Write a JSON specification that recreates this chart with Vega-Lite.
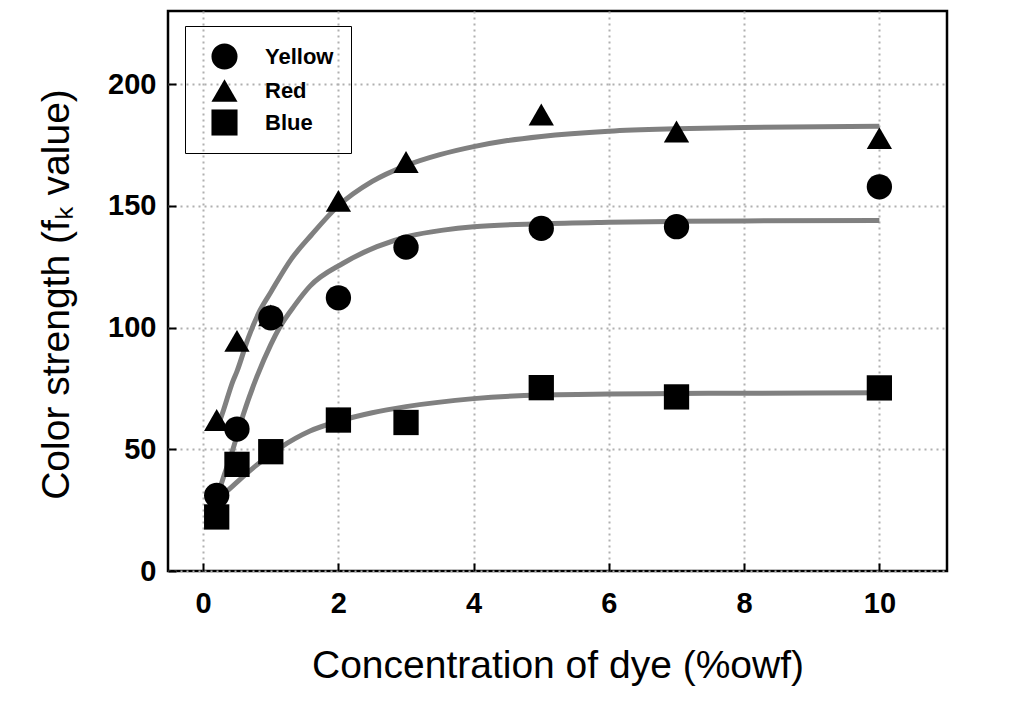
{
  "$schema": "https://vega.github.io/schema/vega-lite/v6.json",
  "width": 779,
  "height": 560,
  "autosize": {"type": "none"},
  "padding": {"left": 168, "top": 11, "right": 70, "bottom": 145},
  "background": "white",
  "config": {
    "view": {"stroke": "black", "strokeWidth": 2.5},
    "font": "Liberation Sans"
  },
  "resolve": {"axis": {"x": "independent", "y": "independent"}},
  "datasets": {
    "points": [
      {"series": "Red", "conc": 0.2, "fk": 62},
      {"series": "Red", "conc": 0.5, "fk": 94.5},
      {"series": "Red", "conc": 1, "fk": 105},
      {"series": "Red", "conc": 2, "fk": 152},
      {"series": "Red", "conc": 3, "fk": 168},
      {"series": "Red", "conc": 5, "fk": 187.5},
      {"series": "Red", "conc": 7, "fk": 180.5},
      {"series": "Red", "conc": 10, "fk": 177.8},
      {"series": "Yellow", "conc": 0.2, "fk": 31},
      {"series": "Yellow", "conc": 0.5, "fk": 58.3},
      {"series": "Yellow", "conc": 1, "fk": 104},
      {"series": "Yellow", "conc": 2, "fk": 112.2},
      {"series": "Yellow", "conc": 3, "fk": 133},
      {"series": "Yellow", "conc": 5, "fk": 140.7},
      {"series": "Yellow", "conc": 7, "fk": 141.4},
      {"series": "Yellow", "conc": 10, "fk": 157.8},
      {"series": "Blue", "conc": 0.2, "fk": 22.2},
      {"series": "Blue", "conc": 0.5, "fk": 43.8},
      {"series": "Blue", "conc": 1, "fk": 49},
      {"series": "Blue", "conc": 2, "fk": 62},
      {"series": "Blue", "conc": 3, "fk": 61},
      {"series": "Blue", "conc": 5, "fk": 75.3},
      {"series": "Blue", "conc": 7, "fk": 71.5},
      {"series": "Blue", "conc": 10, "fk": 75.2}
    ],
    "curves": [
      {"series": "Red", "conc": 0.2, "fk": 58},
      {"series": "Red", "conc": 0.3, "fk": 66},
      {"series": "Red", "conc": 0.44, "fk": 78},
      {"series": "Red", "conc": 0.5, "fk": 82},
      {"series": "Red", "conc": 0.67, "fk": 96},
      {"series": "Red", "conc": 0.84, "fk": 107},
      {"series": "Red", "conc": 1.0, "fk": 114.5},
      {"series": "Red", "conc": 1.3, "fk": 128},
      {"series": "Red", "conc": 1.6, "fk": 138},
      {"series": "Red", "conc": 2.0, "fk": 150},
      {"series": "Red", "conc": 2.5, "fk": 160},
      {"series": "Red", "conc": 3.0, "fk": 166.5},
      {"series": "Red", "conc": 3.5, "fk": 171},
      {"series": "Red", "conc": 4.0, "fk": 174.3},
      {"series": "Red", "conc": 4.5, "fk": 176.8},
      {"series": "Red", "conc": 5.0, "fk": 178.5},
      {"series": "Red", "conc": 6.0, "fk": 180.6},
      {"series": "Red", "conc": 7.0, "fk": 181.6},
      {"series": "Red", "conc": 8.0, "fk": 182.2},
      {"series": "Red", "conc": 10.0, "fk": 182.7},
      {"series": "Yellow", "conc": 0.2, "fk": 30},
      {"series": "Yellow", "conc": 0.3, "fk": 38.5},
      {"series": "Yellow", "conc": 0.44, "fk": 50},
      {"series": "Yellow", "conc": 0.59, "fk": 64},
      {"series": "Yellow", "conc": 0.79, "fk": 79.5},
      {"series": "Yellow", "conc": 1.0, "fk": 93},
      {"series": "Yellow", "conc": 1.13, "fk": 100},
      {"series": "Yellow", "conc": 1.35, "fk": 109},
      {"series": "Yellow", "conc": 1.58, "fk": 117},
      {"series": "Yellow", "conc": 2.07, "fk": 126.4},
      {"series": "Yellow", "conc": 2.57, "fk": 133.2},
      {"series": "Yellow", "conc": 3.06, "fk": 137.6},
      {"series": "Yellow", "conc": 3.55, "fk": 140},
      {"series": "Yellow", "conc": 4.0, "fk": 141.4},
      {"series": "Yellow", "conc": 5.0, "fk": 142.6},
      {"series": "Yellow", "conc": 6.0, "fk": 143.2},
      {"series": "Yellow", "conc": 7.0, "fk": 143.6},
      {"series": "Yellow", "conc": 8.0, "fk": 143.8},
      {"series": "Yellow", "conc": 10.0, "fk": 144},
      {"series": "Blue", "conc": 0.2, "fk": 29},
      {"series": "Blue", "conc": 0.3, "fk": 31.5},
      {"series": "Blue", "conc": 0.44, "fk": 35},
      {"series": "Blue", "conc": 0.79, "fk": 43.5},
      {"series": "Blue", "conc": 1.13, "fk": 50.5},
      {"series": "Blue", "conc": 1.58, "fk": 57.5},
      {"series": "Blue", "conc": 2.0, "fk": 61.5},
      {"series": "Blue", "conc": 2.5, "fk": 65},
      {"series": "Blue", "conc": 3.0, "fk": 67.5},
      {"series": "Blue", "conc": 4.0, "fk": 70.8},
      {"series": "Blue", "conc": 5.0, "fk": 72.3},
      {"series": "Blue", "conc": 6.0, "fk": 72.7},
      {"series": "Blue", "conc": 7.0, "fk": 72.9},
      {"series": "Blue", "conc": 8.0, "fk": 73.0},
      {"series": "Blue", "conc": 10.0, "fk": 73.2}
    ]
  },
  "layer": [
    {
      "data": {"name": "curves"},
      "mark": {"type": "line", "color": "#808080", "strokeWidth": 5, "interpolate": "monotone"},
      "encoding": {
        "x": {
          "field": "conc", "type": "quantitative",
          "scale": {"domain": [-0.52, 11.0], "nice": false, "zero": false},
          "axis": {
            "orient": "bottom", "title": null,
            "values": [0, 2, 4, 6, 8, 10],
            "grid": false, "domain": false, "labels": false,
            "offset": -8, "tickSize": 8, "tickColor": "black", "tickWidth": 2
          }
        },
        "y": {
          "field": "fk", "type": "quantitative",
          "scale": {"domain": [0, 230], "nice": false},
          "axis": {
            "orient": "left", "title": null,
            "values": [0, 50, 100, 150, 200],
            "grid": false, "domain": false, "labels": false,
            "offset": -8, "tickSize": 8, "tickColor": "black", "tickWidth": 2
          }
        },
        "detail": {"field": "series", "type": "nominal"}
      }
    },
    {
      "data": {"name": "points"},
      "mark": {"type": "point", "filled": true, "opacity": 1, "color": "black", "size": 640},
      "encoding": {
        "x": {
          "field": "conc", "type": "quantitative",
          "scale": {"domain": [-0.52, 11.0], "nice": false, "zero": false},
          "axis": {
            "orient": "bottom",
            "title": "Concentration of dye (%owf)",
            "values": [0, 2, 4, 6, 8, 10], "format": "d",
            "grid": true, "gridDash": [2, 4], "gridColor": "#b0b0b0", "gridWidth": 2,
            "domain": false, "ticks": false,
            "labelFont": "Liberation Sans", "labelFontWeight": "bold", "labelFontSize": 29, "labelColor": "black",
            "labelPadding": 18,
            "titleFont": "Liberation Sans", "titleFontSize": 39, "titleFontWeight": "normal", "titleColor": "black",
            "titleY": 106, "titleBaseline": "alphabetic"
          }
        },
        "y": {
          "field": "fk", "type": "quantitative",
          "scale": {"domain": [0, 230], "nice": false},
          "axis": {
            "orient": "left",
            "title": "Color strength (fₖ value)",
            "values": [0, 50, 100, 150, 200], "format": "d",
            "grid": true, "gridDash": [2, 4], "gridColor": "#b0b0b0", "gridWidth": 2,
            "domain": false, "ticks": false,
            "labelFont": "Liberation Sans", "labelFontWeight": "bold", "labelFontSize": 29, "labelColor": "black",
            "labelPadding": 12,
            "titleFont": "Liberation Sans", "titleFontSize": 39, "titleFontWeight": "normal", "titleColor": "black",
            "titleX": -100, "titleY": 283, "titleAngle": -90, "titleAlign": "center", "titleBaseline": "alphabetic"
          }
        },
        "shape": {
          "field": "series", "type": "nominal",
          "scale": {"domain": ["Yellow", "Red", "Blue"], "range": ["circle", "triangle-up", "square"]},
          "legend": {
            "title": null, "orient": "none", "legendX": 17, "legendY": 15,
            "symbolSize": 680, "symbolFillColor": "black", "symbolStrokeColor": "black", "symbolStrokeWidth": 0,
            "labelFont": "Liberation Sans", "labelFontSize": 22, "labelFontWeight": "bold", "labelColor": "black",
            "labelOffset": 27, "padding": 17, "symbolOffset": 9, "rowPadding": 7,
            "strokeColor": "black",
            "encode": {"legend": {"update": {"strokeWidth": {"value": 2.5}}}}
          }
        }
      }
    }
  ]
}
